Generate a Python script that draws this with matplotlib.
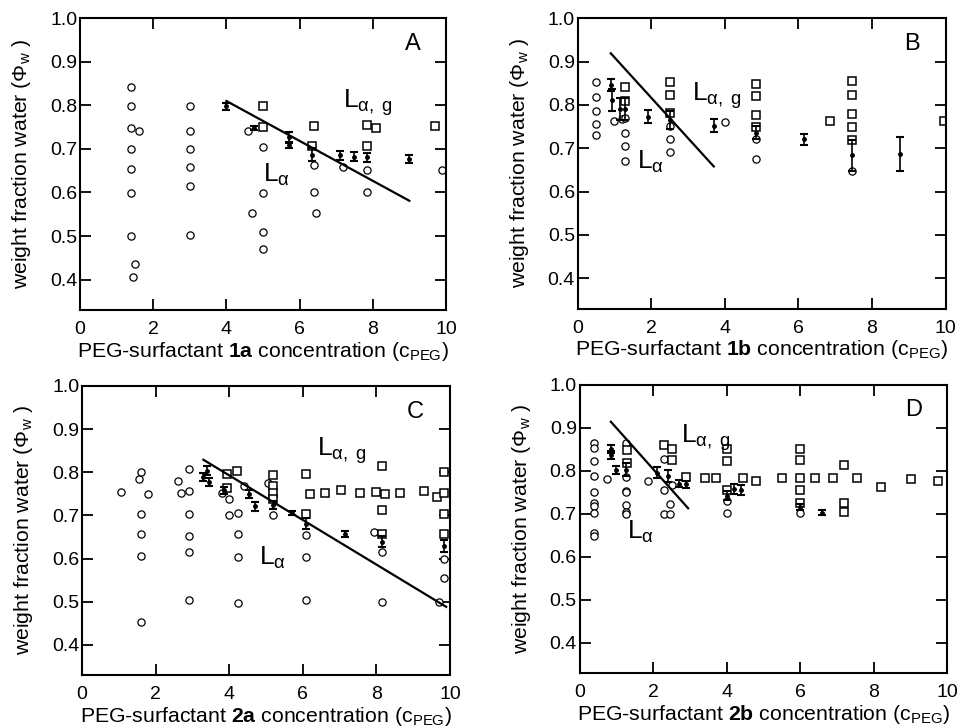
import numpy as np
import matplotlib
matplotlib.use('Agg')
import matplotlib.pyplot as plt

plt.rcParams['font.family'] = ['Liberation Sans', 'DejaVu Sans']
plt.rcParams['mathtext.fontset'] = 'custom'
plt.rcParams['mathtext.rm'] = 'Liberation Sans'
plt.rcParams['mathtext.it'] = 'Liberation Sans:italic'
plt.rcParams['mathtext.bf'] = 'Liberation Sans:bold'

#%% data

# panel A (1a)
A_circ_x = [1.4, 1.4, 1.4, 1.4, 1.4, 1.4, 1.4, 1.45, 1.5, 1.6,
            3.0, 3.0, 3.0, 3.0, 3.0, 3.0,
            4.6, 4.7, 5.0, 5.0, 5.0, 5.0,
            6.4, 6.4, 6.45, 7.2, 7.85, 7.85, 9.9]
A_circ_y = [0.841, 0.798, 0.748, 0.700, 0.654, 0.599, 0.499, 0.406, 0.437, 0.742,
            0.798, 0.742, 0.699, 0.658, 0.615, 0.502,
            0.742, 0.553, 0.704, 0.598, 0.509, 0.470,
            0.664, 0.602, 0.554, 0.659, 0.652, 0.600, 0.652]
A_sq_x = [5.0, 5.0, 6.4, 6.35, 7.85, 7.85, 8.1, 9.7]
A_sq_y = [0.798, 0.751, 0.753, 0.707, 0.755, 0.706, 0.748, 0.752]
A_err_x = [4.0, 4.75, 5.7, 5.7, 6.35, 7.1, 7.5, 7.85, 9.0]
A_err_y = [0.798, 0.748, 0.727, 0.708, 0.687, 0.685, 0.682, 0.681, 0.677]
A_err_e = [0.008, 0.005, 0.012, 0.005, 0.015, 0.010, 0.010, 0.010, 0.010]
A_line_x = [4.0, 9.0]
A_line_y = [0.81, 0.581]

# panel B (1b)
B_circ_x = [0.5, 0.5, 0.5, 0.5, 0.5, 1.0, 1.2, 1.3, 1.3, 1.3, 1.3,
            2.5, 2.5, 2.5, 4.0, 4.85, 4.85, 7.45]
B_circ_y = [0.852, 0.819, 0.786, 0.755, 0.731, 0.762, 0.768, 0.769, 0.736, 0.705, 0.671,
            0.752, 0.721, 0.691, 0.760, 0.721, 0.675, 0.648]
B_sq_x = [1.3, 1.3, 2.5, 2.5, 2.5, 4.85, 4.85, 4.85, 4.85, 6.85,
          7.45, 7.45, 7.45, 7.45, 7.45, 9.95]
B_sq_y = [0.842, 0.810, 0.852, 0.822, 0.781, 0.848, 0.821, 0.776, 0.749, 0.762,
          0.854, 0.822, 0.780, 0.749, 0.718, 0.764]
B_err_x = [0.9, 0.92, 1.15, 1.3, 1.9, 2.5, 3.7, 4.85, 6.15, 7.45, 8.75]
B_err_y = [0.846, 0.812, 0.790, 0.790, 0.773, 0.765, 0.752, 0.736, 0.721, 0.684, 0.687]
B_err_e = [0.014, 0.025, 0.025, 0.025, 0.015, 0.020, 0.015, 0.015, 0.013, 0.036, 0.040]
B_line_x = [0.9, 3.7]
B_line_y = [0.919, 0.658]

# panel C (2a)
C_circ_x = [1.05, 1.55, 1.6, 1.6, 1.6, 1.6, 1.6, 1.8,
            2.6, 2.7, 2.9, 2.9, 2.9, 2.9, 2.9, 2.9,
            3.8, 4.0, 4.0, 4.25, 4.25, 4.25, 4.25, 4.4,
            5.05, 5.2, 6.1, 6.1, 6.1, 7.95, 8.15, 8.15, 9.7, 9.85, 9.85]
C_circ_y = [0.754, 0.785, 0.800, 0.703, 0.657, 0.607, 0.452, 0.749,
            0.780, 0.753, 0.808, 0.757, 0.703, 0.653, 0.614, 0.505,
            0.753, 0.738, 0.700, 0.705, 0.658, 0.604, 0.497, 0.769,
            0.774, 0.702, 0.654, 0.604, 0.505, 0.661, 0.615, 0.499, 0.499, 0.598, 0.555]
C_sq_x = [3.95, 3.95, 4.2, 5.2, 5.2, 5.2, 5.2, 6.1, 6.1, 6.2,
          6.6, 7.05, 7.55, 8.0, 8.15, 8.15, 8.15, 8.25, 8.65, 9.3,
          9.65, 9.85, 9.85, 9.85, 9.85]
C_sq_y = [0.796, 0.763, 0.802, 0.794, 0.767, 0.752, 0.737, 0.796, 0.703, 0.750,
          0.752, 0.759, 0.752, 0.755, 0.815, 0.712, 0.656, 0.749, 0.752, 0.757,
          0.743, 0.800, 0.753, 0.704, 0.658]
C_err_x = [3.3, 3.4, 3.45, 3.85, 4.55, 4.7, 5.2, 5.7, 6.1, 7.15, 8.15, 9.85]
C_err_y = [0.789, 0.804, 0.777, 0.758, 0.750, 0.721, 0.724, 0.706, 0.681, 0.657, 0.639, 0.629]
C_err_e = [0.010, 0.010, 0.010, 0.008, 0.010, 0.010, 0.010, 0.005, 0.013, 0.006, 0.013, 0.015]
C_line_x = [3.3, 9.9]
C_line_y = [0.829, 0.488]

# panel D (2b)
D_circ_x = [0.4, 0.4, 0.4, 0.4, 0.4, 0.4, 0.4, 0.4, 0.4, 0.4, 0.75,
            1.25, 1.25, 1.25, 1.25, 1.25, 1.25, 1.25, 1.85,
            2.3, 2.3, 2.3, 2.45, 2.45, 2.5, 4.0, 4.0, 6.0]
D_circ_y = [0.864, 0.854, 0.823, 0.788, 0.751, 0.726, 0.719, 0.702, 0.655, 0.649, 0.780,
            0.864, 0.786, 0.753, 0.750, 0.721, 0.705, 0.700, 0.777,
            0.827, 0.756, 0.700, 0.722, 0.700, 0.766, 0.730, 0.702, 0.702]
D_sq_x = [1.3, 1.3, 2.3, 2.5, 2.5, 2.9, 3.4, 3.7, 4.0, 4.0, 4.0, 4.45, 4.8,
          5.5, 6.0, 6.0, 6.0, 6.0, 6.0, 6.4, 6.9, 7.2, 7.2, 7.2, 7.55,
          8.2, 9.0, 9.75]
D_sq_y = [0.848, 0.819, 0.859, 0.850, 0.824, 0.785, 0.783, 0.783, 0.851, 0.823, 0.755, 0.783, 0.777,
          0.783, 0.851, 0.825, 0.783, 0.755, 0.726, 0.783, 0.783, 0.813, 0.725, 0.704, 0.784,
          0.763, 0.782, 0.776]
D_err_x = [0.85, 0.85, 1.0, 1.25, 2.1, 2.4, 2.7, 2.9, 4.0, 4.2, 4.4, 6.0, 6.6]
D_err_y = [0.851, 0.837, 0.802, 0.803, 0.796, 0.788, 0.770, 0.769, 0.742, 0.757, 0.755, 0.716, 0.703]
D_err_e = [0.010, 0.010, 0.010, 0.015, 0.012, 0.015, 0.008, 0.008, 0.010, 0.012, 0.012, 0.008, 0.005]
D_line_x = [0.85, 2.95]
D_line_y = [0.914, 0.713]

panels = [
    ('A', '1a', A_circ_x, A_circ_y, A_sq_x, A_sq_y, A_err_x, A_err_y, A_err_e, A_line_x, A_line_y,
     (7.2, 0.795), (5.0, 0.625)),
    ('B', '1b', B_circ_x, B_circ_y, B_sq_x, B_sq_y, B_err_x, B_err_y, B_err_e, B_line_x, B_line_y,
     (3.1, 0.81), (1.6, 0.652)),
    ('C', '2a', C_circ_x, C_circ_y, C_sq_x, C_sq_y, C_err_x, C_err_y, C_err_e, C_line_x, C_line_y,
     (6.4, 0.838), (4.8, 0.585)),
    ('D', '2b', D_circ_x, D_circ_y, D_sq_x, D_sq_y, D_err_x, D_err_y, D_err_e, D_line_x, D_line_y,
     (2.75, 0.865), (1.3, 0.642)),
]

# axes boxes in figure fractions [left, bottom, width, height]
boxes = [[0.0835, 0.574, 0.382, 0.401],
         [0.603, 0.576, 0.384, 0.399],
         [0.0856, 0.0728, 0.384, 0.397],
         [0.605, 0.0755, 0.384, 0.396]]

#%% plotting

fig = plt.figure(figsize=(9.58, 7.28), dpi=100)

for k in range(len(panels)):
    (letter, name, cx, cy, sx, sy, ex, ey, ee, lx, ly, pos_g, pos_a) = panels[k]
    ax = fig.add_axes(boxes[k])
    ax.plot(cx, cy, 'o', mfc='white', mec='black', ms=5.2, mew=0.9, ls='none')
    ax.plot(sx, sy, 's', mfc='white', mec='black', ms=5.8, mew=1.1, ls='none')
    ax.errorbar(ex, ey, yerr=ee, fmt='o', color='black', ms=2.5, capsize=3,
                elinewidth=1.2, capthick=1.5)
    ax.plot(lx, ly, '-', color='black', lw=1.6)
    ax.text(pos_g[0], pos_g[1], r'L$_{\mathrm{α,\ g}}$', fontsize=19)
    ax.text(pos_a[0], pos_a[1], r'L$_{\mathrm{α}}$', fontsize=19)
    ax.text(0.93, 0.89, letter, transform=ax.transAxes, fontsize=17, ha='right')

    ax.set_xlim(0, 10)
    ax.set_ylim(0.33, 1.0)
    ax.set_xticks([0, 2, 4, 6, 8, 10])
    ax.set_yticks([0.4, 0.5, 0.6, 0.7, 0.8, 0.9, 1.0])
    ax.set_yticklabels(['0.4', '0.5', '0.6', '0.7', '0.8', '0.9', '1.0'])
    ax.tick_params(direction='in', length=8, width=1.3, top=True, right=True,
                   labelsize=14)
    ax.tick_params(axis='x', pad=8)
    ax.tick_params(axis='y', pad=2)
    for sp in ax.spines.values():
        sp.set_linewidth(1.5)
    ax.set_xlabel('PEG-surfactant $\\mathbf{' + name + '}$ concentration (c$_{\\mathrm{PEG}}$)',
                  fontsize=15.3, labelpad=1)
    ax.set_ylabel('weight fraction water (\u03a6$_{\\mathrm{w}}$ )', fontsize=15.3, labelpad=12)

fig.savefig('out.png', dpi=100)
